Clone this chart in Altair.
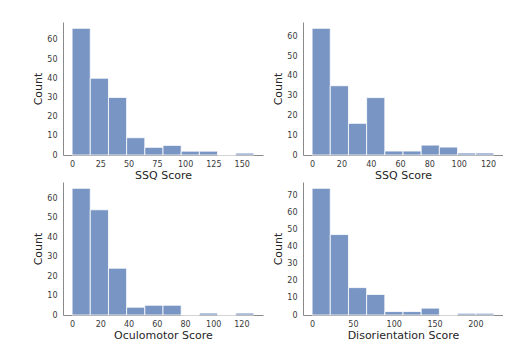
import altair as alt
import pandas as pd

# Histogram bin edges (min, max of each score) and counts per bin (10 bins)
ssq_lo, ssq_hi = 0.0, 160.82
ssq_counts = [66, 40, 30, 9, 4, 5, 2, 2, 0, 1]

nau_lo, nau_hi = 0.0, 124.02
nau_counts = [64, 35, 16, 29, 2, 2, 5, 4, 1, 1]

ocu_lo, ocu_hi = 0.0, 128.86
ocu_counts = [65, 54, 24, 4, 5, 5, 0, 1, 0, 1]

dis_lo, dis_hi = 0.0, 222.72
dis_counts = [74, 47, 16, 12, 2, 2, 4, 0, 1, 1]

titles = ["SSQ Score", "SSQ Score", "Oculomotor Score", "Disorientation Score"]
xticks = [
    [0, 25, 50, 75, 100, 125, 150],
    [0, 20, 40, 60, 80, 100, 120],
    [0, 20, 40, 60, 80, 100, 120],
    [0, 50, 100, 150, 200],
]
yticks = [
    [0, 10, 20, 30, 40, 50, 60],
    [0, 10, 20, 30, 40, 50, 60],
    [0, 10, 20, 30, 40, 50, 60],
    [0, 10, 20, 30, 40, 50, 60, 70],
]

BAR = "#7995c4"
W, H = 200, 133


def panel(lo, hi, counts, title, xt, yt):
    n = len(counts)
    step = (hi - lo) / n
    df = pd.DataFrame({
        "start": [lo + i * step for i in range(n)],
        "end": [lo + (i + 1) * step for i in range(n)],
        "count": counts,
    })
    rng = hi - lo
    xdom = [lo - 0.05 * rng, hi + 0.05 * rng]
    ydom = [0, max(counts) * 1.05]
    return alt.Chart(df).mark_rect(
        color=BAR, stroke="white", strokeWidth=0.8
    ).encode(
        x=alt.X("start:Q", scale=alt.Scale(domain=xdom, nice=False, zero=False),
                axis=alt.Axis(title=title, values=xt, grid=False, ticks=False,
                              labelPadding=5, titlePadding=1)),
        x2="end:Q",
        y=alt.Y("count:Q", scale=alt.Scale(domain=ydom, nice=False),
                axis=alt.Axis(title="Count", values=yt, grid=False, ticks=False,
                              labelPadding=6, titlePadding=3)),
        y2=alt.datum(0),
    ).properties(width=W, height=H)


p1 = panel(ssq_lo, ssq_hi, ssq_counts, titles[0], xticks[0], yticks[0])
p2 = panel(nau_lo, nau_hi, nau_counts, titles[1], xticks[1], yticks[1])
p3 = panel(ocu_lo, ocu_hi, ocu_counts, titles[2], xticks[2], yticks[2])
p4 = panel(dis_lo, dis_hi, dis_counts, titles[3], xticks[3], yticks[3])

chart = alt.concat(
    p1, p2, p3, p4, columns=2,
    spacing={"row": 27, "column": 40}, bounds="flush",
).properties(
    padding={"left": 32, "top": 22, "right": 0, "bottom": 0},
    background="white",
).configure_view(stroke=None).configure_axis(
    domainColor="#8a8a8a", domainWidth=1,
    labelColor="#3a3a3a", labelFont="DejaVu Sans", labelFontSize=8,
    titleColor="#262626", titleFont="DejaVu Sans", titleFontSize=11,
    titleFontWeight="normal",
)

chart.save("out.html", embed_options={"renderer": "svg", "actions": False})
